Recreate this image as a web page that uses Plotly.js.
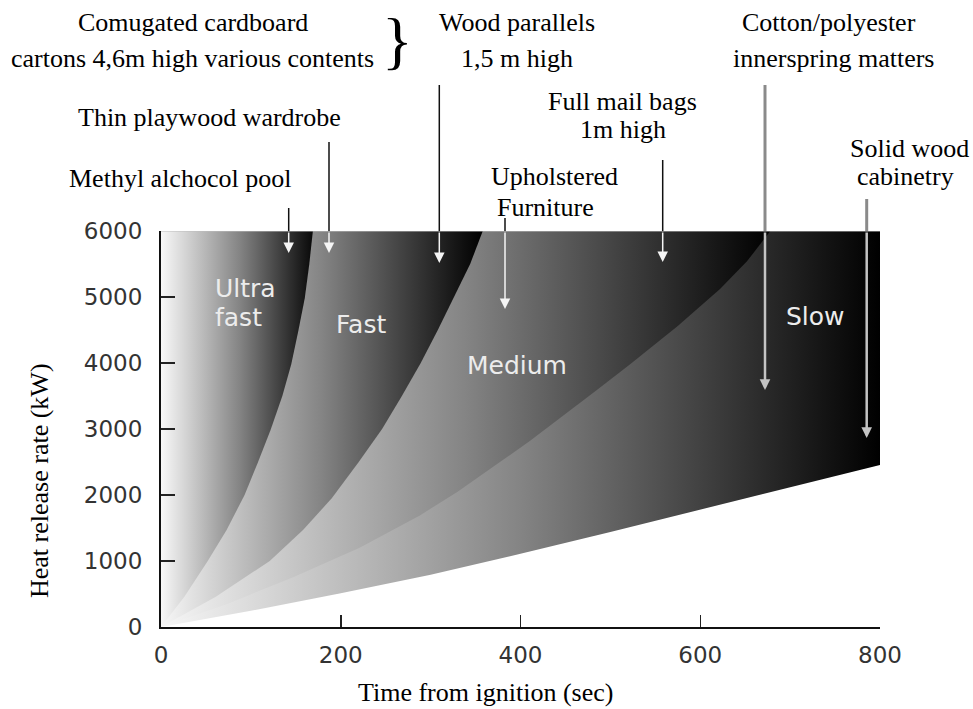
<!DOCTYPE html>
<html>
<head>
<meta charset="utf-8">
<script src="https://cdn.plot.ly/plotly-3.0.1.min.js"></script>
<style>
  html, body { margin: 0; padding: 0; background: #ffffff; }
  #chart { width: 973px; height: 709px; }
</style>
</head>
<body>
<div id="chart"></div>
<script>
// ---------------- data ----------------
const T_MAX = 800;   // s, right end of the time axis
const Q_MAX = 6000;  // kW, top of the heat release axis

// fire-growth boundary curves: time (s) and heat release rate (kW)
const ultraFastT = [0, 26, 52, 73, 93, 108, 122, 135, 145, 153, 160, 165, 169];
const ultraFastQ = [0, 460, 1000, 1470, 2000, 2500, 2990, 3500, 3985, 4500, 4985, 5500, 6000];

const fastT = [0, 61, 121, 158, 190, 220, 246, 268, 289, 308, 326, 344, 358];
const fastQ = [0, 460, 1000, 1470, 1950, 2500, 3000, 3500, 4000, 4500, 5000, 5500, 6000];

const mediumT = [0, 73, 147, 221, 288, 330, 370, 410, 447, 485, 522, 575, 622, 652, 678];
const mediumQ = [0, 345, 755, 1200, 1690, 2050, 2430, 2815, 3195, 3590, 3980, 4560, 5120, 5540, 6000];

const slowT = [0, 100, 200, 300, 400, 500, 600, 700, 800];
const slowQ = [0, 245, 510, 790, 1110, 1440, 1780, 2115, 2455];

const regionNames = ['Slow', 'Medium', 'Fast', 'Ultra fast'];

const xTickVals = [0, 200, 400, 600, 800];
const yTickVals = [0, 1000, 2000, 3000, 4000, 5000, 6000];

const xTitle = 'Time from ignition (sec)';
const yTitle = 'Heat release rate (kW)';

// ---------------- layout geometry ----------------
const W = 973, H = 709;
const M = { l: 161, r: 93, t: 231, b: 82 };
const PW = W - M.l - M.r, PH = H - M.t - M.b;
const paperX = px => (px - M.l) / PW;
const paperY = py => (H - M.b - py) / PH;
const dataX = px => (px - M.l) / PW * T_MAX;
const dataY = py => (H - M.b - py) / PH * Q_MAX;

const grey = [[0, '#f8f8f8'], [0.5, '#848484'], [0.9, '#1a1a1a'], [1, '#000000']];

// each region = area above/left of its curve; drawn slow -> ultra so they overlap without seams
function region(name, T, Q, stop, topRight) {
  const xs = [0].concat(topRight ? [T_MAX] : [], T.slice().reverse());
  const ys = [Q_MAX].concat(topRight ? [Q_MAX] : [], Q.slice().reverse());
  return {
    type: 'scatter', mode: 'lines', name: name,
    x: xs, y: ys, fill: 'toself',
    line: { width: 0 },
    fillgradient: { type: 'horizontal', colorscale: grey, start: 0, stop: stop },
    hoverinfo: 'skip', showlegend: false
  };
}

const traces = [
  region(regionNames[0], slowT, slowQ, T_MAX, true),
  region(regionNames[1], mediumT, mediumQ, mediumT[mediumT.length - 1], false),
  region(regionNames[2], fastT, fastQ, fastT[fastT.length - 1], false),
  region(regionNames[3], ultraFastT, ultraFastQ, ultraFastT[ultraFastT.length - 1] + 6, false)
];

// ---------------- annotations ----------------
const serif = 'Liberation Serif, Times New Roman, serif';
const sans = 'DejaVu Sans, Arial, sans-serif';
const annotations = [];

function txt(text, px, py, size, opts) {
  annotations.push(Object.assign({
    text: text, xref: 'paper', yref: 'paper', x: paperX(px), y: paperY(py),
    xanchor: 'center', yanchor: 'middle', showarrow: false,
    font: { family: serif, size: size || 26, color: '#000000' }
  }, opts || {}));
}

// labels above the plot
txt('Comugated cardboard', 192.5, 23);
txt('cartons 4,6m high various contents', 192.5, 58);
txt('}', 397, 40, 64);
txt('Wood parallels', 517, 23);
txt('1,5 m high', 517, 58);
txt('Cotton/polyester', 829, 23);
txt('innerspring matters', 833, 58);
txt('Thin playwood wardrobe', 209, 117);
txt('Full mail bags', 622, 101);
txt('1m high', 623, 129);
txt('Methyl alchocol pool', 180, 178);
txt('Upholstered', 554, 177);
txt('Furniture', 545, 207);
txt('Solid wood', 909, 148);
txt('cabinetry', 905, 177);

// axis titles
txt(xTitle, 485, 692);
txt(yTitle, 39, 481, 26, { textangle: -90 });

// region labels inside the plot
const lab = { family: sans, size: 25, color: '#ececec' };
txt('Ultra', 213, 288, 25, { xanchor: 'left', font: lab });
txt('fast', 213, 317, 25, { xanchor: 'left', font: lab });
txt('Fast', 360.5, 324, 25, { font: lab });
txt('Medium', 516.7, 365, 25, { font: lab });
txt('Slow', 815.7, 316, 25, { font: lab });

// arrows: [pixel x, pixel y of line top, pixel y of arrow tip, kind]
const arrows = [
  [288.7, 208, 253, 'b'],
  [329.0, 142, 253, 'b'],
  [439.3, 85, 263, 'b'],
  [505.0, 218, 309, 'b'],
  [662.7, 160, 262, 'b'],
  [765.0, 85, 390, 'g'],
  [866.7, 199, 438, 'g']
];
const shapes = [
  { type: 'line', xref: 'x', yref: 'y', x0: 0, x1: T_MAX, y0: Q_MAX, y1: Q_MAX,
    line: { color: '#bdbdbd', width: 1 }, layer: 'above' }
];
arrows.forEach(a => {
  const xd = dataX(a[0]);
  const g = a[3] === 'g';
  shapes.push({
    type: 'line', xref: 'x', yref: 'paper', x0: xd, x1: xd, y0: 1, y1: paperY(a[1]),
    line: { color: g ? '#8a8a8a' : '#111111', width: g ? 3 : 1.5 }
  });
  annotations.push({
    text: '', xref: 'x', yref: 'y', x: xd, y: dataY(a[2]),
    axref: 'x', ayref: 'y', ax: xd, ay: Q_MAX,
    showarrow: true, arrowhead: 2, standoff: 0,
    arrowwidth: g ? 2.5 : 1.5, arrowsize: g ? 0.85 : 1.4,
    arrowcolor: g ? '#c4c4c4' : '#f5f5f5'
  });
});

const tickFont = { family: sans, size: 23, color: '#333333' };

const layout = {
  width: W, height: H,
  margin: M,
  paper_bgcolor: '#ffffff', plot_bgcolor: '#ffffff',
  showlegend: false,
  xaxis: {
    range: [0, T_MAX], tickvals: xTickVals, ticktext: xTickVals.map(String),
    showgrid: false, zeroline: false,
    showline: true, linecolor: '#111111', linewidth: 2,
    ticks: 'inside', ticklen: 12, tickwidth: 1.5, tickcolor: '#222222',
    tickfont: tickFont, ticklabelstandoff: 6
  },
  yaxis: {
    range: [0, Q_MAX], tickvals: yTickVals, ticktext: yTickVals.map(String),
    showgrid: false, zeroline: false,
    showline: true, linecolor: '#111111', linewidth: 2,
    ticks: 'inside', ticklen: 14, tickwidth: 1.5, tickcolor: '#222222',
    tickfont: tickFont, ticklabelstandoff: 12
  },
  annotations: annotations,
  shapes: shapes
};

Plotly.newPlot('chart', traces, layout, { staticPlot: true, displayModeBar: false });
</script>
</body>
</html>
